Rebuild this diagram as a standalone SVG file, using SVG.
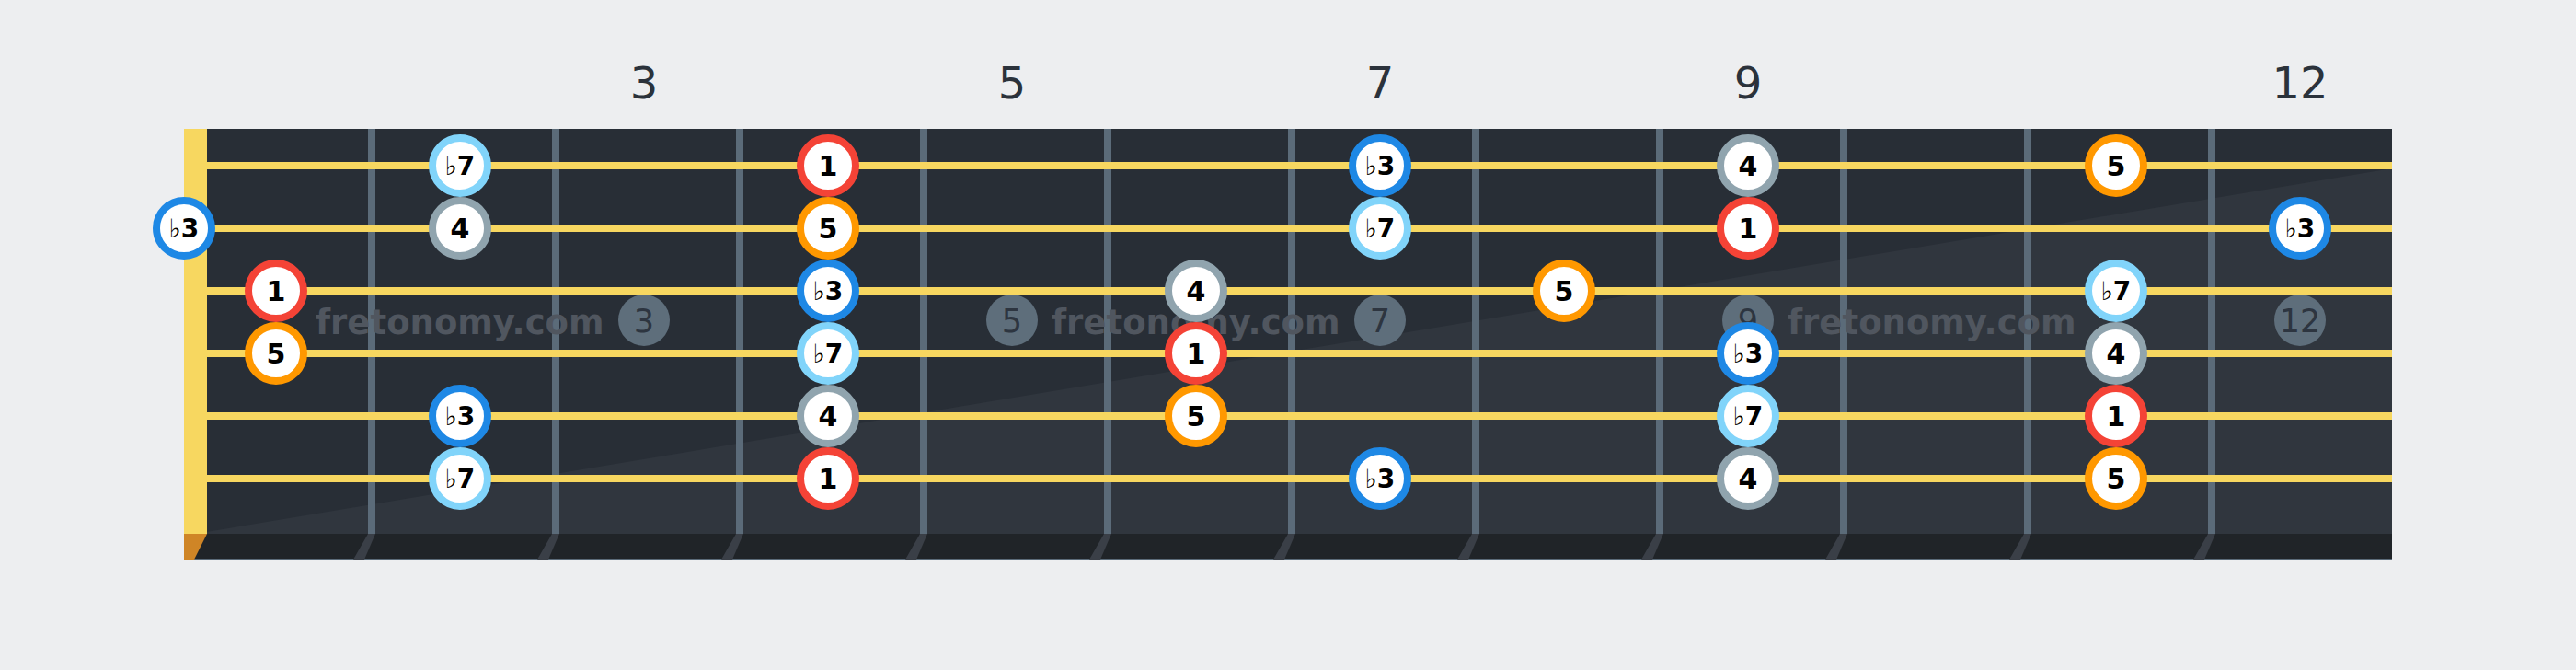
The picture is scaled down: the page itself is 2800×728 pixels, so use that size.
<svg xmlns="http://www.w3.org/2000/svg" width="2800" height="728" viewBox="0 0 2800 728">
<style>
.fretnum{font-family:"DejaVu Sans",sans-serif;font-size:48px;fill:#2b323b;text-anchor:middle}
.wm{font-family:"DejaVu Sans",sans-serif;font-size:37px;font-weight:bold;fill:#50565f}
.mk{fill:#5e6e7b}
.mkt{font-family:"DejaVu Sans",sans-serif;font-size:35px;fill:#2d3540;text-anchor:middle}
.fret{fill:#5b6b79}
.str{fill:#f7d760}
.shadow{fill:#3a3f47}
.note circle{fill:#ffffff;stroke-width:8}
.note text{font-family:"DejaVu Sans",sans-serif;font-weight:bold;font-size:30px;fill:#000;text-anchor:middle}
.note text.fl{font-size:28px}
.note text tspan.b{font-weight:normal}
.r1 circle{stroke:#f44336}
.r5 circle{stroke:#ff9800}
.rb3 circle{stroke:#1e88e5}
.rb7 circle{stroke:#81d4fa}
.r4 circle{stroke:#90a4ae}
</style>
<rect x="0" y="0" width="2800" height="728" fill="#edeef0"/>
<g id="fret-numbers">
<text class="fretnum" x="700" y="107">3</text>
<text class="fretnum" x="1100" y="107">5</text>
<text class="fretnum" x="1500" y="107">7</text>
<text class="fretnum" x="1900" y="107">9</text>
<text class="fretnum" x="2500" y="107">12</text>
</g>
<g id="fretboard">
<rect x="200" y="140" width="2400" height="440" fill="#282e36"/>
<polygon points="200,582 2600,183 2600,580 200,580" fill="#30363e"/>
<rect x="200" y="580" width="2400" height="28" fill="#202428"/>
<rect x="200" y="607" width="2400" height="2" fill="#5b6b79"/>
<polygon points="200,580 225,580 211,608 200,608" fill="#cf8526"/>
<g id="fret-shadows">
<polygon class="shadow" points="400,580 408,580 396,608 384,608"/>
<polygon class="shadow" points="600,580 608,580 596,608 584,608"/>
<polygon class="shadow" points="800,580 808,580 796,608 784,608"/>
<polygon class="shadow" points="1000,580 1008,580 996,608 984,608"/>
<polygon class="shadow" points="1200,580 1208,580 1196,608 1184,608"/>
<polygon class="shadow" points="1400,580 1408,580 1396,608 1384,608"/>
<polygon class="shadow" points="1600,580 1608,580 1596,608 1584,608"/>
<polygon class="shadow" points="1800,580 1808,580 1796,608 1784,608"/>
<polygon class="shadow" points="2000,580 2008,580 1996,608 1984,608"/>
<polygon class="shadow" points="2200,580 2208,580 2196,608 2184,608"/>
<polygon class="shadow" points="2400,580 2408,580 2396,608 2384,608"/>
</g>
<rect x="200" y="140" width="25" height="440" fill="#f7d760"/>
<g id="frets">
<rect class="fret" x="400" y="140" width="8" height="440"/>
<rect class="fret" x="600" y="140" width="8" height="440"/>
<rect class="fret" x="800" y="140" width="8" height="440"/>
<rect class="fret" x="1000" y="140" width="8" height="440"/>
<rect class="fret" x="1200" y="140" width="8" height="440"/>
<rect class="fret" x="1400" y="140" width="8" height="440"/>
<rect class="fret" x="1600" y="140" width="8" height="440"/>
<rect class="fret" x="1800" y="140" width="8" height="440"/>
<rect class="fret" x="2000" y="140" width="8" height="440"/>
<rect class="fret" x="2200" y="140" width="8" height="440"/>
<rect class="fret" x="2400" y="140" width="8" height="440"/>
</g>
<g id="markers">
<circle class="mk" cx="700" cy="348" r="28"/><text class="mkt" x="700" y="361">3</text>
<circle class="mk" cx="1100" cy="348" r="28"/><text class="mkt" x="1100" y="361">5</text>
<circle class="mk" cx="1500" cy="348" r="28"/><text class="mkt" x="1500" y="361">7</text>
<circle class="mk" cx="1900" cy="348" r="28"/><text class="mkt" x="1900" y="361">9</text>
<circle class="mk" cx="2500" cy="348" r="28"/><text class="mkt" x="2500" y="361">12</text>
</g>
<g id="watermark">
<text class="wm" x="343" y="363">fretonomy.com</text>
<text class="wm" x="1143" y="363">fretonomy.com</text>
<text class="wm" x="1943" y="363">fretonomy.com</text>
</g>
</g>
<g id="connectors">
<rect class="str" x="225" y="176" width="2375" height="8"/>
<rect class="str" x="225" y="244" width="2375" height="8"/>
<rect class="str" x="225" y="312" width="2375" height="8"/>
<rect class="str" x="225" y="380" width="2375" height="8"/>
<rect class="str" x="225" y="448" width="2375" height="8"/>
<rect class="str" x="225" y="516" width="2375" height="8"/>
</g>
<g id="notes">
<g id="s1f2" class="note rb7"><circle cx="500" cy="180" r="30"/><text class="fl" x="500" y="190"><tspan class="b">♭</tspan>7</text></g>
<g id="s1f4" class="note r1"><circle cx="900" cy="180" r="30"/><text x="900" y="191">1</text></g>
<g id="s1f7" class="note rb3"><circle cx="1500" cy="180" r="30"/><text class="fl" x="1500" y="190"><tspan class="b">♭</tspan>3</text></g>
<g id="s1f9" class="note r4"><circle cx="1900" cy="180" r="30"/><text x="1900" y="191">4</text></g>
<g id="s1f11" class="note r5"><circle cx="2300" cy="180" r="30"/><text x="2300" y="191">5</text></g>

<g id="s2f0" class="note rb3"><circle cx="200" cy="248" r="30"/><text class="fl" x="200" y="258"><tspan class="b">♭</tspan>3</text></g>
<g id="s2f2" class="note r4"><circle cx="500" cy="248" r="30"/><text x="500" y="259">4</text></g>
<g id="s2f4" class="note r5"><circle cx="900" cy="248" r="30"/><text x="900" y="259">5</text></g>
<g id="s2f7" class="note rb7"><circle cx="1500" cy="248" r="30"/><text class="fl" x="1500" y="258"><tspan class="b">♭</tspan>7</text></g>
<g id="s2f9" class="note r1"><circle cx="1900" cy="248" r="30"/><text x="1900" y="259">1</text></g>
<g id="s2f12" class="note rb3"><circle cx="2500" cy="248" r="30"/><text class="fl" x="2500" y="258"><tspan class="b">♭</tspan>3</text></g>

<g id="s3f1" class="note r1"><circle cx="300" cy="316" r="30"/><text x="300" y="327">1</text></g>
<g id="s3f4" class="note rb3"><circle cx="900" cy="316" r="30"/><text class="fl" x="900" y="326"><tspan class="b">♭</tspan>3</text></g>
<g id="s3f6" class="note r4"><circle cx="1300" cy="316" r="30"/><text x="1300" y="327">4</text></g>
<g id="s3f8" class="note r5"><circle cx="1700" cy="316" r="30"/><text x="1700" y="327">5</text></g>
<g id="s3f11" class="note rb7"><circle cx="2300" cy="316" r="30"/><text class="fl" x="2300" y="326"><tspan class="b">♭</tspan>7</text></g>

<g id="s4f1" class="note r5"><circle cx="300" cy="384" r="30"/><text x="300" y="395">5</text></g>
<g id="s4f4" class="note rb7"><circle cx="900" cy="384" r="30"/><text class="fl" x="900" y="394"><tspan class="b">♭</tspan>7</text></g>
<g id="s4f6" class="note r1"><circle cx="1300" cy="384" r="30"/><text x="1300" y="395">1</text></g>
<g id="s4f9" class="note rb3"><circle cx="1900" cy="384" r="30"/><text class="fl" x="1900" y="394"><tspan class="b">♭</tspan>3</text></g>
<g id="s4f11" class="note r4"><circle cx="2300" cy="384" r="30"/><text x="2300" y="395">4</text></g>

<g id="s5f2" class="note rb3"><circle cx="500" cy="452" r="30"/><text class="fl" x="500" y="462"><tspan class="b">♭</tspan>3</text></g>
<g id="s5f4" class="note r4"><circle cx="900" cy="452" r="30"/><text x="900" y="463">4</text></g>
<g id="s5f6" class="note r5"><circle cx="1300" cy="452" r="30"/><text x="1300" y="463">5</text></g>
<g id="s5f9" class="note rb7"><circle cx="1900" cy="452" r="30"/><text class="fl" x="1900" y="462"><tspan class="b">♭</tspan>7</text></g>
<g id="s5f11" class="note r1"><circle cx="2300" cy="452" r="30"/><text x="2300" y="463">1</text></g>

<g id="s6f2" class="note rb7"><circle cx="500" cy="520" r="30"/><text class="fl" x="500" y="530"><tspan class="b">♭</tspan>7</text></g>
<g id="s6f4" class="note r1"><circle cx="900" cy="520" r="30"/><text x="900" y="531">1</text></g>
<g id="s6f7" class="note rb3"><circle cx="1500" cy="520" r="30"/><text class="fl" x="1500" y="530"><tspan class="b">♭</tspan>3</text></g>
<g id="s6f9" class="note r4"><circle cx="1900" cy="520" r="30"/><text x="1900" y="531">4</text></g>
<g id="s6f11" class="note r5"><circle cx="2300" cy="520" r="30"/><text x="2300" y="531">5</text></g>
</g>
</svg>
